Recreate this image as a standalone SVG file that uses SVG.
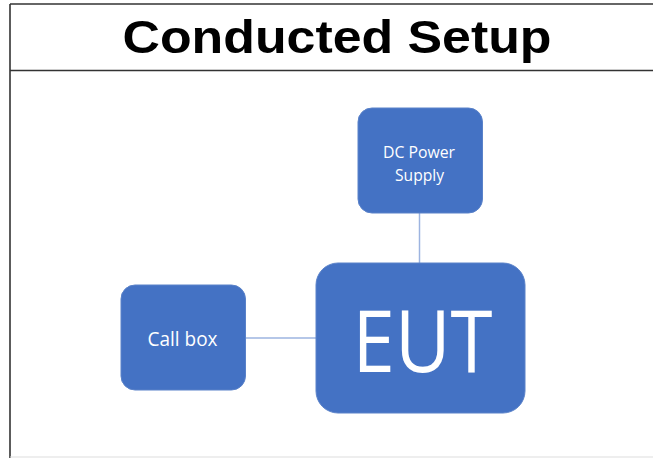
<svg xmlns="http://www.w3.org/2000/svg" width="653" height="458" viewBox="0 0 653 458">
<style>
.frame{stroke:#333;stroke-width:1.6;fill:none}
.box{fill:#4472C4;stroke:#5a82c9;stroke-width:1}
.conn{stroke:#9DB4E0;stroke-width:1.5;fill:none}
.lbl{font-family:"Open Sans","Noto Sans",sans-serif;fill:#fff;text-anchor:middle}
.title{font-family:"Liberation Sans",Arial,sans-serif;font-weight:bold;fill:#000;text-anchor:middle}
</style>
<rect width="653" height="458" fill="#fff"/>
<g id="frame">
<line class="frame" x1="10" y1="4" x2="653" y2="4"/>
<line class="frame" x1="10" y1="4" x2="10" y2="458"/>
<line class="frame" x1="10" y1="70.5" x2="653" y2="70.5"/>
<line x1="10" y1="457" x2="653" y2="457" stroke="#ddd" stroke-width="1"/>
</g>
<g id="title">
<text class="title" x="337" y="52.5" font-size="46" textLength="429" lengthAdjust="spacingAndGlyphs">Conducted Setup</text>
</g>
<g id="connectors">
<line class="conn" x1="419.5" y1="213" x2="419.5" y2="264"/>
<line class="conn" x1="245" y1="338" x2="317" y2="338"/>
</g>
<g id="dc-power-supply">
<rect class="box" x="358" y="108" width="124.5" height="105" rx="14"/>
<text class="lbl" x="419" y="157.5" font-size="16" textLength="72" lengthAdjust="spacingAndGlyphs">DC Power</text>
<text class="lbl" x="419.5" y="180.5" font-size="16" textLength="49" lengthAdjust="spacingAndGlyphs">Supply</text>
</g>
<g id="call-box">
<rect class="box" x="121" y="285" width="124.5" height="105" rx="14"/>
<text class="lbl" x="182.5" y="346" font-size="19.5" textLength="70" lengthAdjust="spacingAndGlyphs">Call box</text>
</g>
<g id="eut">
<rect class="box" x="316" y="263" width="209" height="150" rx="22"/>
<text class="lbl" x="422.5" y="371.5" font-size="86" textLength="140" lengthAdjust="spacingAndGlyphs">EUT</text>
</g>
</svg>
